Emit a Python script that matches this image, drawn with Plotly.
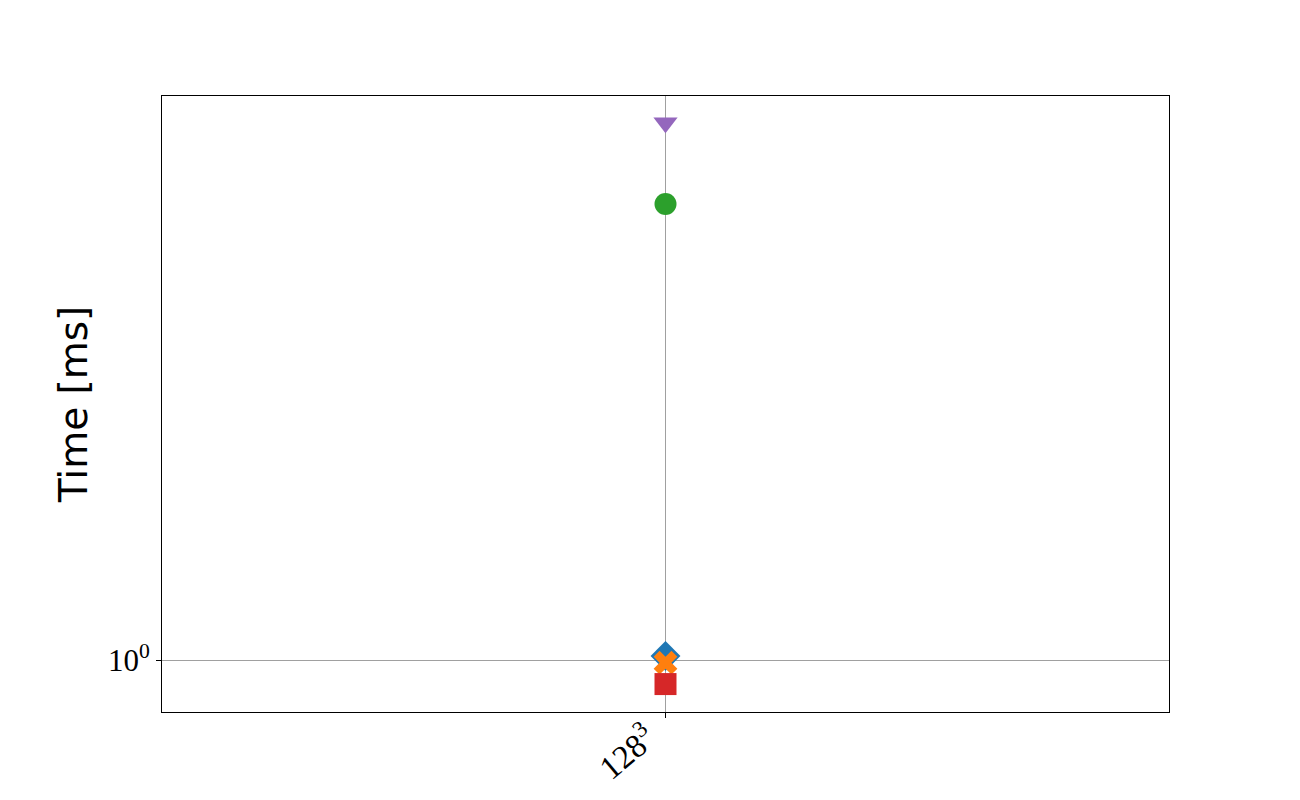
import plotly.graph_objects as go

categories = ["128<sup>3</sup>"]
series_names = ["A", "B", "C", "D", "E"]
series_values = [
    [1.015],  # blue diamond
    [0.99],   # orange x
    [5.5],    # green circle
    [0.914],  # red square
    [7.45],   # purple triangle
]
colors = ["#1f77b4", "#ff7f0e", "#2ca02c", "#d62728", "#9467bd"]
symbols = ["diamond", "x", "circle", "square", "triangle-down"]
sizes = [23, 21, 22, 22, 21]

fig = go.Figure()
for name, vals, c, s, sz in zip(series_names, series_values, colors, symbols, sizes):
    fig.add_trace(go.Scatter(
        x=categories, y=vals, mode="markers", name=name,
        marker=dict(color=c, symbol=s, size=sz, line=dict(width=0)),
        showlegend=False,
    ))

fig.update_layout(
    width=1300, height=800,
    margin=dict(l=162, r=131, t=96, b=88),
    plot_bgcolor="white", paper_bgcolor="white",
    xaxis=dict(
        type="category", range=[-1, 1], automargin=False,
        showline=True, linecolor="black", linewidth=1, mirror=True,
        showgrid=True, gridcolor="#a0a0a0", gridwidth=1,
        ticks="outside", ticklen=5, tickcolor="black",
        tickangle=-40, ticklabelshift=-18, ticklabelstandoff=-12,
        tickfont=dict(family="Liberation Serif", size=33, color="black"),
    ),
    yaxis=dict(
        type="log", range=[-0.0844, 0.9156], automargin=False,
        showline=True, linecolor="black", linewidth=1, mirror=True,
        showgrid=True, gridcolor="#a0a0a0", gridwidth=1,
        ticks="outside", ticklen=5, tickcolor="black",
        tickvals=[1], ticktext=["10<sup>0</sup>"],
        tickfont=dict(family="Liberation Serif", size=31, color="black"),
        zeroline=False,
        title=dict(text="Time [ms]", font=dict(family="DejaVu Sans", size=39, color="black"), standoff=8),
    ),
)

fig.write_html("out.html")
